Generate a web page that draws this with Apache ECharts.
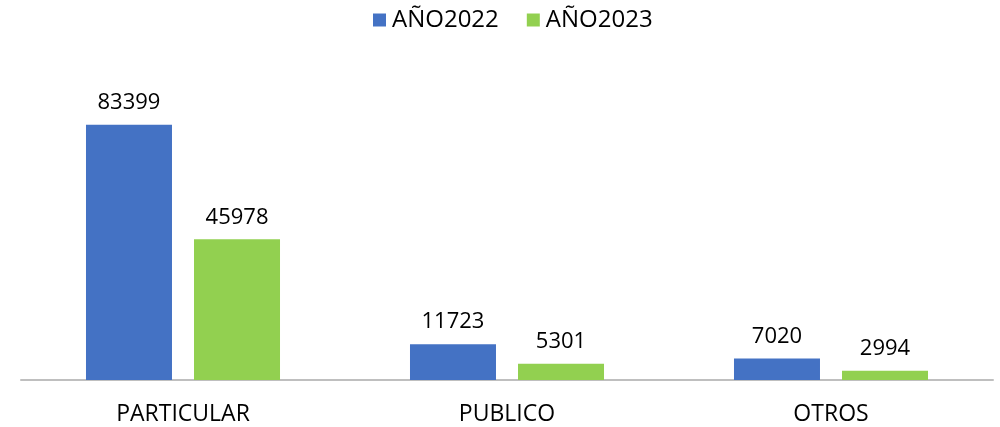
<!DOCTYPE html>
<html>
<head>
<meta charset="utf-8">
<script src="https://cdn.jsdelivr.net/npm/echarts@6/dist/echarts.min.js"></script>
<style>
  html, body { margin: 0; padding: 0; background: #fff; }
  #chart { width: 1000px; height: 427px; }
</style>
</head>
<body>
<div id="chart"></div>
<script>
// datos
var categories = ['PARTICULAR', 'PUBLICO', 'OTROS'];
var seriesNames = ['AÑO2022', 'AÑO2023'];
var ano2022 = [83399, 11723, 7020];
var ano2023 = [45978, 5301, 2994];

var colors = ['#4472C4', '#92D050'];
var fontFam = '"Open Sans", "Noto Sans", sans-serif';

var chart = echarts.init(document.getElementById('chart'));

function makeSeries(name, data, color) {
  return {
    name: name,
    type: 'bar',
    data: data,
    barWidth: 86,
    barGap: '25.6%',
    itemStyle: { color: color },
    label: {
      show: true,
      position: 'top',
      distance: 11,
      color: '#000',
      fontSize: 22,
      fontFamily: fontFam
    }
  };
}

chart.setOption({
  animation: false,
  color: colors,
  legend: {
    top: 3,
    left: 368,
    itemWidth: 13,
    itemHeight: 13,
    itemGap: 28,
    icon: 'rect',
    textStyle: { fontSize: 24, color: '#000', fontFamily: fontFam, padding: [0, 0, 0, 1] },
    data: seriesNames
  },
  grid: { left: 21, right: 7, top: 74, bottom: 47, containLabel: false },
  xAxis: {
    type: 'category',
    data: categories,
    axisTick: { show: false },
    axisLine: { lineStyle: { color: '#BFBFBF', width: 2 } },
    axisLabel: { color: '#000', fontSize: 23, fontFamily: fontFam, margin: 23 }
  },
  yAxis: {
    type: 'value',
    min: 0,
    max: 100000,
    show: false,
    splitLine: { show: false }
  },
  series: [
    makeSeries(seriesNames[0], ano2022, colors[0]),
    makeSeries(seriesNames[1], ano2023, colors[1])
  ]
});
</script>
</body>
</html>
